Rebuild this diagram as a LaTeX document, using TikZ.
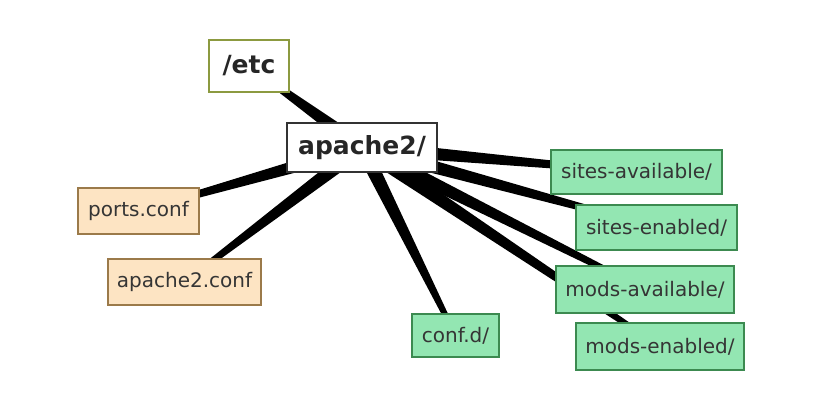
\documentclass[tikz,border=0pt]{standalone}
\usepackage{fontspec}
\setmainfont{DejaVu Sans}
\usetikzlibrary{calc}
\pgfdeclarelayer{background}
\pgfsetlayers{background,main}
\definecolor{olivebd}{HTML}{8C9A40}
\definecolor{peachfill}{HTML}{FDE4C3}
\definecolor{peachbd}{HTML}{9B7A4A}
\definecolor{greenfill}{HTML}{93E6B2}
\definecolor{greenbd}{HTML}{3C8A50}
\definecolor{txtgray}{HTML}{353535}
\tikzset{
  boxbase/.style={draw, line width=1.3pt, inner sep=0pt, anchor=center},
  bignode/.style={boxbase, fill=white, font=\fontsize{25}{28}\selectfont\bfseries, text=black!85},
  peachnode/.style={boxbase, fill=peachfill, draw=peachbd, font=\fontsize{20}{24}\selectfont, text=txtgray},
  greennode/.style={boxbase, fill=greenfill, draw=greenbd, font=\fontsize{20}{24}\selectfont, text=txtgray},
}
\newcommand{\taper}[2]{%
  \fill[black] ($(#1)!7.5pt!90:(#2)$) -- ($(#2)!2.4pt!-90:(#1)$) -- ($(#2)!2.4pt!90:(#1)$) -- ($(#1)!7.5pt!-90:(#2)$) -- cycle;}
\begin{document}
\begin{tikzpicture}[x=1pt,y=-1pt]
\useasboundingbox (0,0) rectangle (831,420);
\node[bignode, draw=olivebd, minimum width=80pt, minimum height=52pt] (etc) at (249,66) {/etc};
\node[bignode, draw=black!80, minimum width=150pt, minimum height=49pt] (apache) at (362,147.5) {apache2/};
\node[peachnode, minimum width=121pt, minimum height=46pt] (ports) at (138.5,211) {ports.conf};
\node[peachnode, minimum width=153pt, minimum height=46pt] (aconf) at (184.5,282) {apache2.conf};
\node[greennode, minimum width=87pt, minimum height=43pt] (confd) at (455.5,335.5) {conf.d/};
\node[greennode, minimum width=171pt, minimum height=44pt] (sa) at (636.5,172) {sites-available/};
\node[greennode, minimum width=161pt, minimum height=45pt] (se) at (656.5,227.5) {sites-enabled/};
\node[greennode, minimum width=178pt, minimum height=47pt] (ma) at (645,289.5) {mods-available/};
\node[greennode, minimum width=168pt, minimum height=47pt] (me) at (660,346.5) {mods-enabled/};
\begin{pgfonlayer}{background}
\fill[white] (0,0) rectangle (831,420);
\taper{apache}{etc}
\taper{apache}{ports}
\taper{apache}{aconf}
\taper{apache}{confd}
\taper{apache}{sa}
\taper{apache}{se}
\taper{apache}{ma}
\taper{apache}{me}
\end{pgfonlayer}
\end{tikzpicture}
\end{document}
